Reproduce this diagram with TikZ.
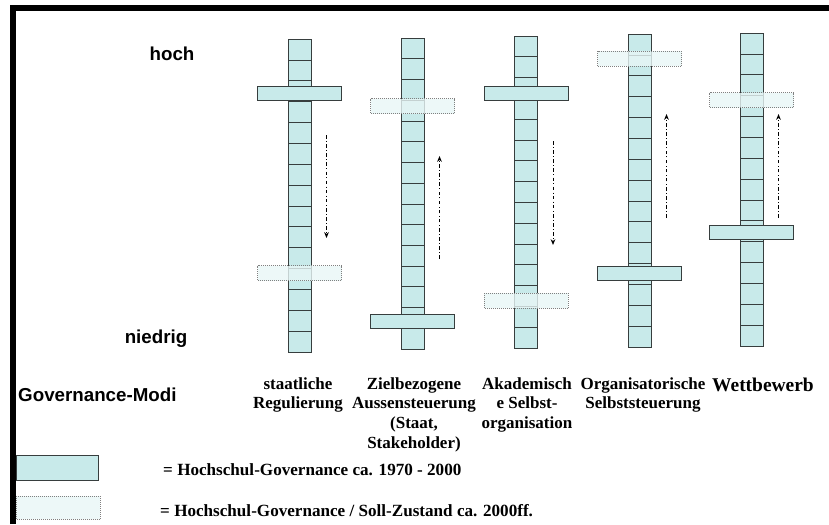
\documentclass[tikz,border=0pt]{standalone}
\usepackage{fontspec}
\setmainfont{Liberation Serif}
\newfontfamily\arialfont{Liberation Sans}
\usetikzlibrary{arrows.meta}
\definecolor{istcyan}{RGB}{200,234,234}
\definecolor{sollcyan}{RGB}{232,246,246}
\definecolor{bardark}{RGB}{55,62,62}

\tikzset{
  istbar/.style={fill=istcyan, draw=bardark, line width=0.8pt},
  sollbar/.style={fill=sollcyan, fill opacity=0.8, draw=gray, densely dotted, line width=0.7pt},
  trend/.style={draw=black, line width=0.8pt, dash dot, -{Stealth[length=5pt,width=4pt]}},
  axislabel/.style={font=\arialfont\bfseries\fontsize{16}{19}\selectfont},
  modilabel/.style={font=\bfseries\fontsize{14.5}{17}\selectfont, align=center, anchor=north, inner sep=0pt},
  legendtext/.style={font=\bfseries\fontsize{14.6}{17}\selectfont, anchor=west, inner sep=0pt}
}

\begin{document}
\begin{tikzpicture}[x=0.03cm, y=-0.03cm]
    \useasboundingbox (0,0) rectangle (829,524);
    % Frame
    \draw[line width=5pt] (13,524) -- (13,8) -- (829,8);

    % Scale labels
    \node[axislabel] (hoch) at (172,54) {hoch};
    \node[axislabel] (niedrig) at (156,339) {niedrig};
    \node[axislabel, anchor=west, inner sep=0pt] (modi) at (18,395) {Governance-Modi};

    % Columns: centre / top / bottom / ist bar / soll bar / arrow
    \foreach \i/\cx/\ytop/\ybot/\ist/\soll/\yfrom/\yto in {
        1/299.5/39/352/93/273/135/238,
        2/412.5/38/349/321.5/106/259/156,
        3/526/36/348/93/300.5/141/245,
        4/639.5/34/347/273/58.5/218/114,
        5/751.5/33/346/232/100/218/114
    } {
        \fill[istcyan] (\cx-11.5,\ytop) rectangle (\cx+11.5,\ybot);
        \foreach \k in {1,...,14}
            \draw[bardark, line width=0.6pt] (\cx-11.5,{\ytop+\k*(\ybot-\ytop)/15}) -- (\cx+11.5,{\ytop+\k*(\ybot-\ytop)/15});
        \draw[bardark, line width=0.8pt] (\cx-11.5,\ytop) rectangle (\cx+11.5,\ybot);
        \draw[istbar] (\cx-42,\ist-7) rectangle (\cx+42,\ist+7);
        \draw[sollbar] (\cx-42,\soll-7.5) rectangle (\cx+42,\soll+7.5);
        \coordinate (from\i) at (\cx+27,\yfrom);
        \coordinate (to\i) at (\cx+27,\yto);
        \draw[trend] (from\i) -- (to\i);
    }

    % Mode labels
    \node[modilabel] (m1) at (298,377) {staatliche\\Regulierung};
    \node[modilabel] (m2) at (414,377) {Zielbezogene\\Aussensteuerung\\(Staat,\\Stakeholder)};
    \node[modilabel] (m3) at (527,377) {Akademisch\\e Selbst-\\organisation};
    \node[modilabel] (m4) at (643,377) {Organisatorische\\Selbststeuerung};
    \node[modilabel, font=\bfseries\fontsize{16.6}{19}\selectfont] (m5) at (763,378) {Wettbewerb};

    % Legend
    \draw[istbar] (16,455) rectangle (98,480);
    \draw[sollbar] (16,496) rectangle (100,519);
    \node[legendtext] (leg1) at (163,470) {= Hochschul-Governance ca. 1970 - 2000};
    \node[legendtext] (leg2) at (160,511) {= Hochschul-Governance / Soll-Zustand ca. 2000ff.};
\end{tikzpicture}
\end{document}
